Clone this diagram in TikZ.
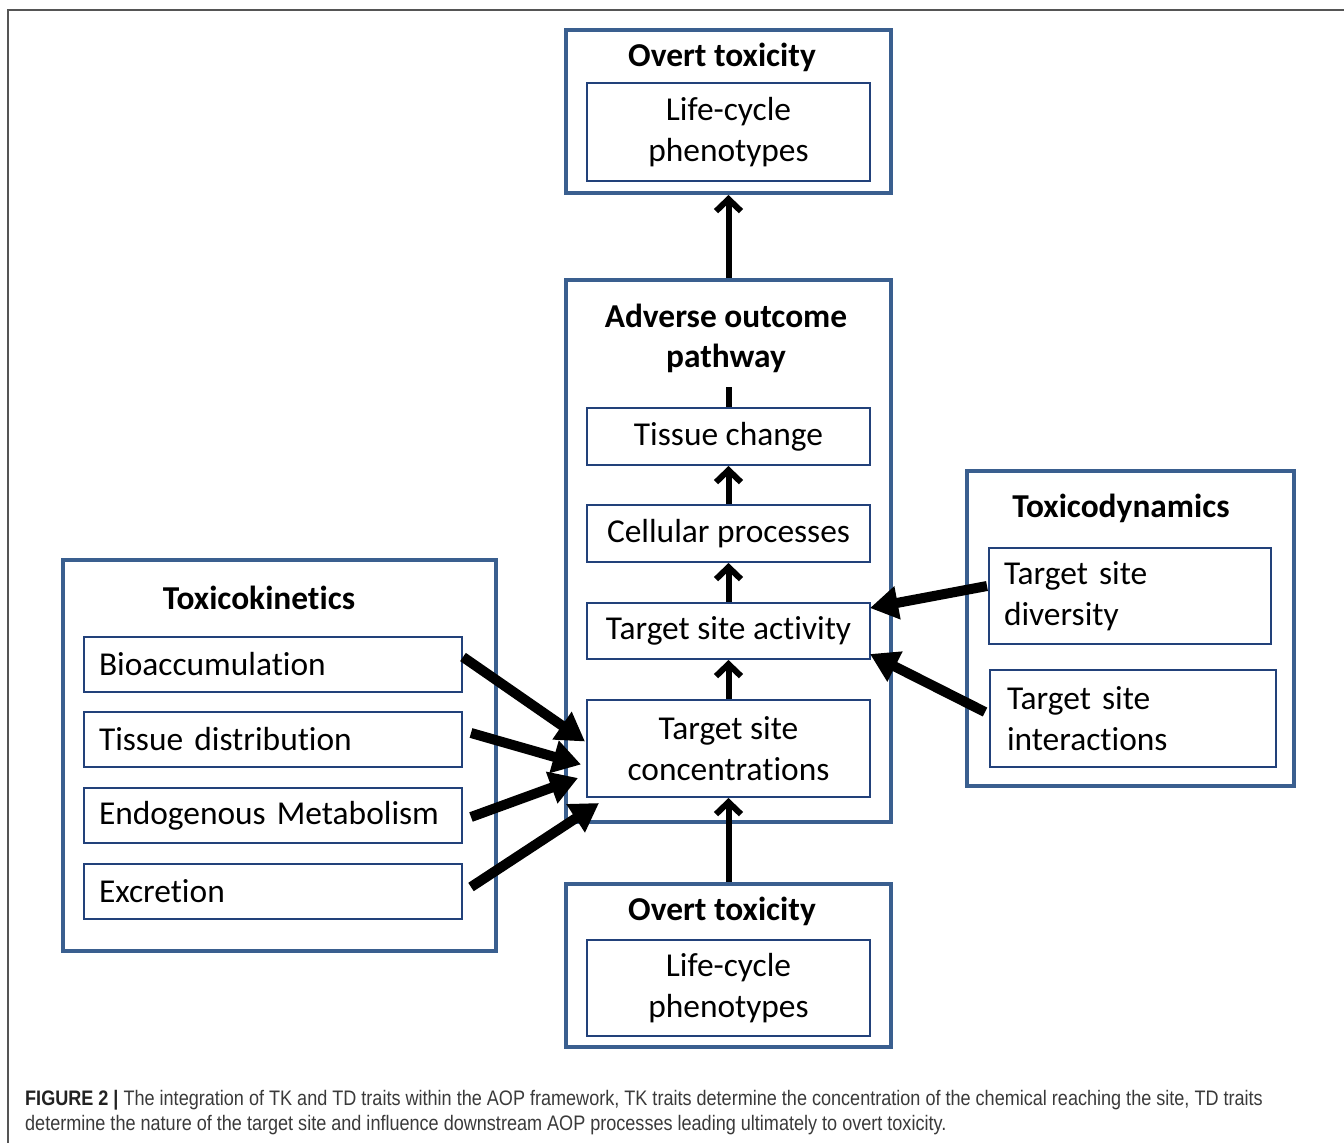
\documentclass[tikz,border=0pt]{standalone}
\usepackage{fontspec}
\setmainfont{Carlito}[Ligatures=NoCommon]
\newfontfamily\capfont[FakeStretch=0.86]{Liberation Sans}
\usetikzlibrary{arrows.meta}
\definecolor{outerblue}{HTML}{3A5F8F}
\definecolor{innerblue}{HTML}{22417A}
\definecolor{framegray}{HTML}{555555}
\definecolor{captext}{HTML}{3A3A3A}
\definecolor{capbold}{HTML}{222222}
\newcommand\boxfont{\fontsize{33.4}{41}\selectfont}
\newcommand\headfont{\fontsize{33.4}{40}\selectfont\bfseries}
\tikzset{
  outerbox/.style={draw=outerblue, line width=4pt, inner sep=0pt},
  innerbox/.style={draw=innerblue, line width=2pt, inner sep=0pt, align=center, font=\boxfont},
  leftbox/.style={innerbox, align=left, inner xsep=15pt, inner ysep=0pt},
  headtext/.style={inner sep=0pt, align=center, font=\headfont},
  vflow/.style={line width=6pt, -{Straight Barb[length=12pt,width=25pt]}},
  vstub/.style={line width=6pt},
  dflow/.style={line width=10pt, -{Triangle[length=28pt,width=32pt]}},
  captxt/.style={anchor=base west, inner sep=0pt, text=captext, font=\capfont\fontsize{21}{25}\selectfont},
}
\begin{document}
\begin{tikzpicture}[x=1pt,y=-1pt]
\useasboundingbox (0,0) rectangle (1344,1143);
\fill[white] (0,0) rectangle (1344,1143);
% frame
\coordinate (fa) at (8,1143);
\coordinate (fb) at (8,10);
\coordinate (fc) at (1344,10);
\draw[framegray, line width=1.5pt] (fa) -- (fb) -- (fc);

% outer boxes
\node[outerbox, minimum width=325pt, minimum height=163pt] (topbox) at (728.5,111.5) {};
\node[outerbox, minimum width=325pt, minimum height=542pt] (aop) at (728.5,551) {};
\node[outerbox, minimum width=325pt, minimum height=163pt] (botbox) at (728.5,965.5) {};
\node[outerbox, minimum width=433pt, minimum height=391pt] (tk) at (279.5,755.5) {};
\node[outerbox, minimum width=327pt, minimum height=315pt] (td) at (1130.5,628.5) {};

% headings
\node[headtext] (toph) at (722,57) {Overt toxicity};
\node[headtext] (aoph) at (726,338) {Adverse outcome\\pathway};
\node[headtext] (both) at (722,911) {Overt toxicity};
\node[headtext] (tkh) at (259,598) {Toxicokinetics};
\node[headtext] (tdh) at (1121,508) {Toxicodynamics};

% inner boxes, centre column
\node[innerbox, minimum width=283pt, minimum height=98pt] (lc1) at (728.5,132) {Life-cycle\\phenotypes};
\node[innerbox, minimum width=283pt, minimum height=57pt] (tissue) at (728.5,436.5) {Tissue change};
\node[innerbox, minimum width=283pt, minimum height=57pt] (cell) at (728.5,533.5) {Cellular processes};
\node[innerbox, minimum width=283pt, minimum height=56pt] (act) at (728.5,631) {Target site activity};
\node[innerbox, minimum width=283pt, minimum height=97pt] (conc) at (728.5,748.5) {Target site\\concentrations};
\node[innerbox, minimum width=283pt, minimum height=96pt] (lc2) at (728.5,988) {Life-cycle\\phenotypes};

% toxicokinetics
\node[leftbox, text width=348pt, minimum height=55pt] (bio) at (273,664.5) {Bioaccumulation};
\node[leftbox, text width=348pt, minimum height=55pt] (tdist) at (273,739.5) {Tissue distribution};
\node[leftbox, text width=348pt, minimum height=55pt] (endo) at (273,815.5) {Endogenous Metabolism};
\node[leftbox, text width=348pt, minimum height=55pt] (excr) at (273,891.5) {Excretion};

% toxicodynamics
\node[leftbox, text width=252pt, minimum height=96pt] (div) at (1130,596) {Target site\\diversity};
\node[leftbox, text width=252pt, minimum height=97pt, inner xsep=17pt] (inter) at (1133,718.5) {Target site\\interactions};

% vertical connectors
\coordinate (stub) at (728.5,387);
\draw[vflow] (aop.north) -- (topbox.south);
\draw[vstub] (tissue.north) -- (stub);
\draw[vflow] (cell.north) -- (tissue.south);
\draw[vflow] (act.north) -- (cell.south);
\draw[vflow] (conc.north) -- (act.south);
\draw[vflow] (botbox.north) -- (conc.south);

% toxicokinetic arrows
\draw[dflow] ([yshift=7.5pt]bio.east) -- ([xshift=-1pt,yshift=7pt]conc.west);
\draw[dflow] ([xshift=8pt,yshift=6.5pt]tdist.east) -- ([xshift=-5pt,yshift=-16pt]conc.west);
\draw[dflow] ([xshift=8pt,yshift=-1.5pt]endo.east) -- ([xshift=-8pt,yshift=-29.5pt]conc.west);
\draw[dflow] ([xshift=8pt,yshift=4.5pt]excr.east) -- ([xshift=13pt,yshift=-54.5pt]conc.west);

% toxicodynamic arrows
\draw[dflow] ([xshift=-1pt,yshift=10pt]div.west) -- ([xshift=-1pt,yshift=23pt]act.east);
\draw[dflow] ([xshift=-4pt,yshift=6.5pt]inter.west) -- ([xshift=-1pt,yshift=-23pt]act.east);

% caption
\node[captxt] (cap1) at (25,1105) {\textcolor{capbold}{\textbf{FIGURE 2 |}} The integration of TK and TD traits within the AOP framework, TK traits determine the concentration of the chemical reaching the site, TD traits};
\node[captxt] (cap2) at (25,1130) {determine the nature of the target site and influence downstream AOP processes leading ultimately to overt toxicity.};
\end{tikzpicture}
\end{document}
